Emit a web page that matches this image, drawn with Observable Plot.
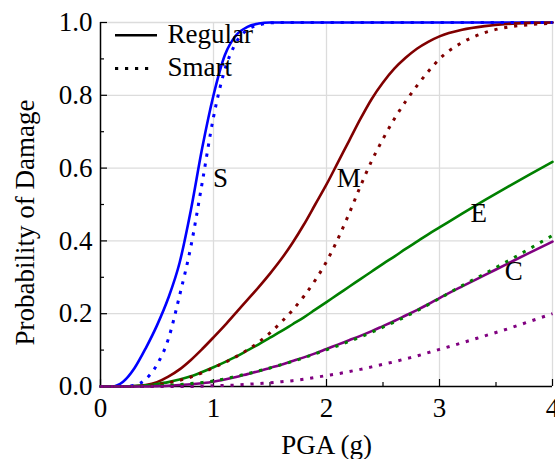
<!DOCTYPE html>
<html>
<head>
<meta charset="utf-8">
<script src="https://cdn.jsdelivr.net/npm/d3@7"></script>
<script src="https://cdn.jsdelivr.net/npm/@observablehq/plot@0.6"></script>
<style>
  html, body { margin: 0; padding: 0; background: white; }
  #chart svg { display: block; }
</style>
</head>
<body>
<div id="chart"></div>
<script>
// PGA grid (g)
const pga = [0,0.1,0.2,0.3,0.4,0.5,0.6,0.7,0.8,0.9,1.0,1.1,1.2,1.3,1.4,1.5,1.6,1.7,1.8,1.9,2.0,
             2.1,2.2,2.3,2.4,2.5,2.6,2.7,2.8,2.9,3.0,3.2,3.4,3.6,3.8,4.0];

// Regular (solid)
const sRegular = [0,0,0.013,0.05,0.105,0.168,0.243,0.34,0.485,0.655,0.80,0.91,0.965,0.988,0.997,1,1,1,1,1,1,
                  1,1,1,1,1,1,1,1,1,1,1,1,1,1,1];
const mRegular = [0,0,0,0.001,0.004,0.012,0.027,0.047,0.073,0.103,0.135,0.168,0.203,0.238,0.273,0.31,0.35,0.395,0.445,0.50,0.555,
                  0.615,0.675,0.735,0.79,0.835,0.873,0.903,0.928,0.947,0.962,0.98,0.99,0.996,0.999,1];
const eRegular = [0,0,0,0.001,0.003,0.007,0.012,0.019,0.028,0.04,0.053,0.067,0.082,0.099,0.116,0.134,0.152,0.171,0.19,0.211,0.232,
                  0.253,0.274,0.295,0.316,0.337,0.357,0.378,0.398,0.418,0.437,0.475,0.512,0.548,0.583,0.617];
const cRegular = [0,0,0,0,0,0.001,0.002,0.004,0.006,0.009,0.013,0.019,0.026,0.034,0.042,0.051,0.06,0.07,0.08,0.091,0.103,
                  0.115,0.127,0.139,0.152,0.166,0.18,0.195,0.21,0.226,0.243,0.275,0.306,0.337,0.368,0.398];

// Smart (dotted)
const sSmart = [0,0,0,0.003,0.02,0.06,0.13,0.25,0.385,0.56,0.74,0.87,0.945,0.98,0.993,0.999,1,1,1,1,1,
                1,1,1,1,1,1,1,1,1,1,1,1,1,1,1];
const mSmart = [0,0,0,0,0.002,0.005,0.01,0.017,0.026,0.038,0.052,0.066,0.082,0.1,0.122,0.147,0.177,0.21,0.248,0.292,0.343,
                0.405,0.475,0.55,0.62,0.68,0.735,0.783,0.826,0.865,0.9,0.945,0.972,0.987,0.994,0.998];
const eSmart = [0,0,0,0,0,0.002,0.003,0.005,0.008,0.011,0.015,0.021,0.028,0.035,0.043,0.051,0.06,0.069,0.079,0.09,0.101,
                0.112,0.124,0.136,0.149,0.163,0.177,0.192,0.208,0.225,0.242,0.277,0.31,0.344,0.379,0.415];
const cSmart = [0,0,0,0,0,0,0,0,0,0.001,0.002,0.003,0.004,0.006,0.008,0.01,0.013,0.016,0.02,0.025,0.03,
                0.035,0.041,0.047,0.054,0.061,0.068,0.076,0.084,0.093,0.102,0.12,0.139,0.158,0.179,0.2];

const seriesNames = ["S", "M", "E", "C"];
const seriesColors = ["#0000ff", "#800000", "#008000", "#800080"];
const regularValues = [sRegular, mRegular, eRegular, cRegular];
const smartValues = [sSmart, mSmart, eSmart, cSmart];

// curve labels (anchor in data units)
const curveLabels = ["S", "M", "E", "C"];
const curveLabelX = [1.063, 2.197, 3.348, 3.658];
const curveLabelY = [0.571, 0.571, 0.475, 0.316];

const xMajor = [0, 1, 2, 3, 4];
const xMinor = [0.5, 1.5, 2.5, 3.5];
const yMajor = [0, 0.2, 0.4, 0.6, 0.8, 1.0];
const yMinor = [0.1, 0.3, 0.5, 0.7, 0.9];

const legendLabels = ["Regular", "Smart"];
const xLabel = "PGA (g)";
const yLabel = "Probability of Damage";

const W = 555, H = 459, mL = 100, mR = 3, mT = 22, mB = 73;
const plotW = W - mL - mR, plotH = H - mT - mB;
const FONT = "'Liberation Serif', 'Times New Roman', serif";
const FS = 27;
const dotted = "3.2,6.8";

const rows = (vals) => pga.map((x, i) => ({x, p: vals[i]}));

const curveMarks = [];
regularValues.forEach((vals, k) => {
  curveMarks.push(Plot.line(rows(vals), {x: "x", y: "p", stroke: seriesColors[k], strokeWidth: 2.6, curve: "monotone-x"}));
});
smartValues.forEach((vals, k) => {
  curveMarks.push(Plot.line(rows(vals), {x: "x", y: "p", stroke: seriesColors[k], strokeWidth: 3, strokeDasharray: dotted,
    strokeLinecap: "butt", curve: "monotone-x"}));
});

const chart = Plot.plot({
  width: W, height: H,
  marginLeft: mL, marginRight: mR, marginTop: mT, marginBottom: mB,
  x: {domain: [0, 4]},
  y: {domain: [0, 1]},
  style: {fontFamily: FONT, fontSize: FS + "px", background: "white", color: "black"},
  marks: [
    Plot.ruleX(xMajor.slice(1), {stroke: "#dcdcdc", strokeWidth: 1.3}),
    Plot.ruleY(yMajor.slice(1), {stroke: "#dcdcdc", strokeWidth: 1.3}),
    Plot.ruleX([0], {stroke: "black", strokeWidth: 1.5}),
    Plot.ruleY([0], {stroke: "black", strokeWidth: 1.5}),
    Plot.tickY(yMajor, {y: d => d, insetRight: plotW - 7, stroke: "black", strokeWidth: 1.2}),
    Plot.tickY(yMinor, {y: d => d, insetRight: plotW - 4, stroke: "black", strokeWidth: 1.2}),
    Plot.tickX(xMajor, {x: d => d, insetTop: plotH - 7, stroke: "black", strokeWidth: 1.2}),
    Plot.tickX(xMinor, {x: d => d, insetTop: plotH - 4, stroke: "black", strokeWidth: 1.2}),
    ...curveMarks,
    Plot.text(curveLabels, {x: (d, i) => curveLabelX[i], y: (d, i) => curveLabelY[i], text: d => d,
      fontSize: FS, fontFamily: FONT, fill: "black", lineAnchor: "middle"}),
    Plot.axisX(xMajor, {tickSize: 0, tickPadding: 11, fontSize: FS, fontFamily: FONT, label: null, tickFormat: d => String(d)}),
    Plot.axisY(yMajor, {tickSize: 0, tickPadding: 8, fontSize: FS, fontFamily: FONT, label: null, tickFormat: d3.format(".1f")}),
    // axis titles
    Plot.text([xLabel], {frameAnchor: "bottom", dy: 59, fontSize: FS, fontFamily: FONT, fill: "black", lineAnchor: "middle", textAnchor: "middle"}),
    Plot.text([yLabel], {frameAnchor: "left", dx: -75, dy: 18, rotate: -90, fontSize: FS, fontFamily: FONT, fill: "black",
      lineAnchor: "middle", textAnchor: "middle"}),
    // legend
    Plot.tickY([1], {y: d => d, dy: 12.7, insetLeft: 15, insetRight: plotW - 57, stroke: "black", strokeWidth: 2.6}),
    Plot.tickY([1], {y: d => d, dy: 46, insetLeft: 15, insetRight: plotW - 50, stroke: "black", strokeWidth: 3,
      strokeDasharray: dotted, strokeLinecap: "butt"}),
    Plot.text([legendLabels[0]], {frameAnchor: "top-left", dx: 67, dy: 12, fontSize: FS, fontFamily: FONT,
      fill: "black", textAnchor: "start", lineAnchor: "middle"}),
    Plot.text([legendLabels[1]], {frameAnchor: "top-left", dx: 67, dy: 44.5, fontSize: FS, fontFamily: FONT,
      fill: "black", textAnchor: "start", lineAnchor: "middle"})
  ]
});
document.getElementById("chart").appendChild(chart);
</script>
</body>
</html>
